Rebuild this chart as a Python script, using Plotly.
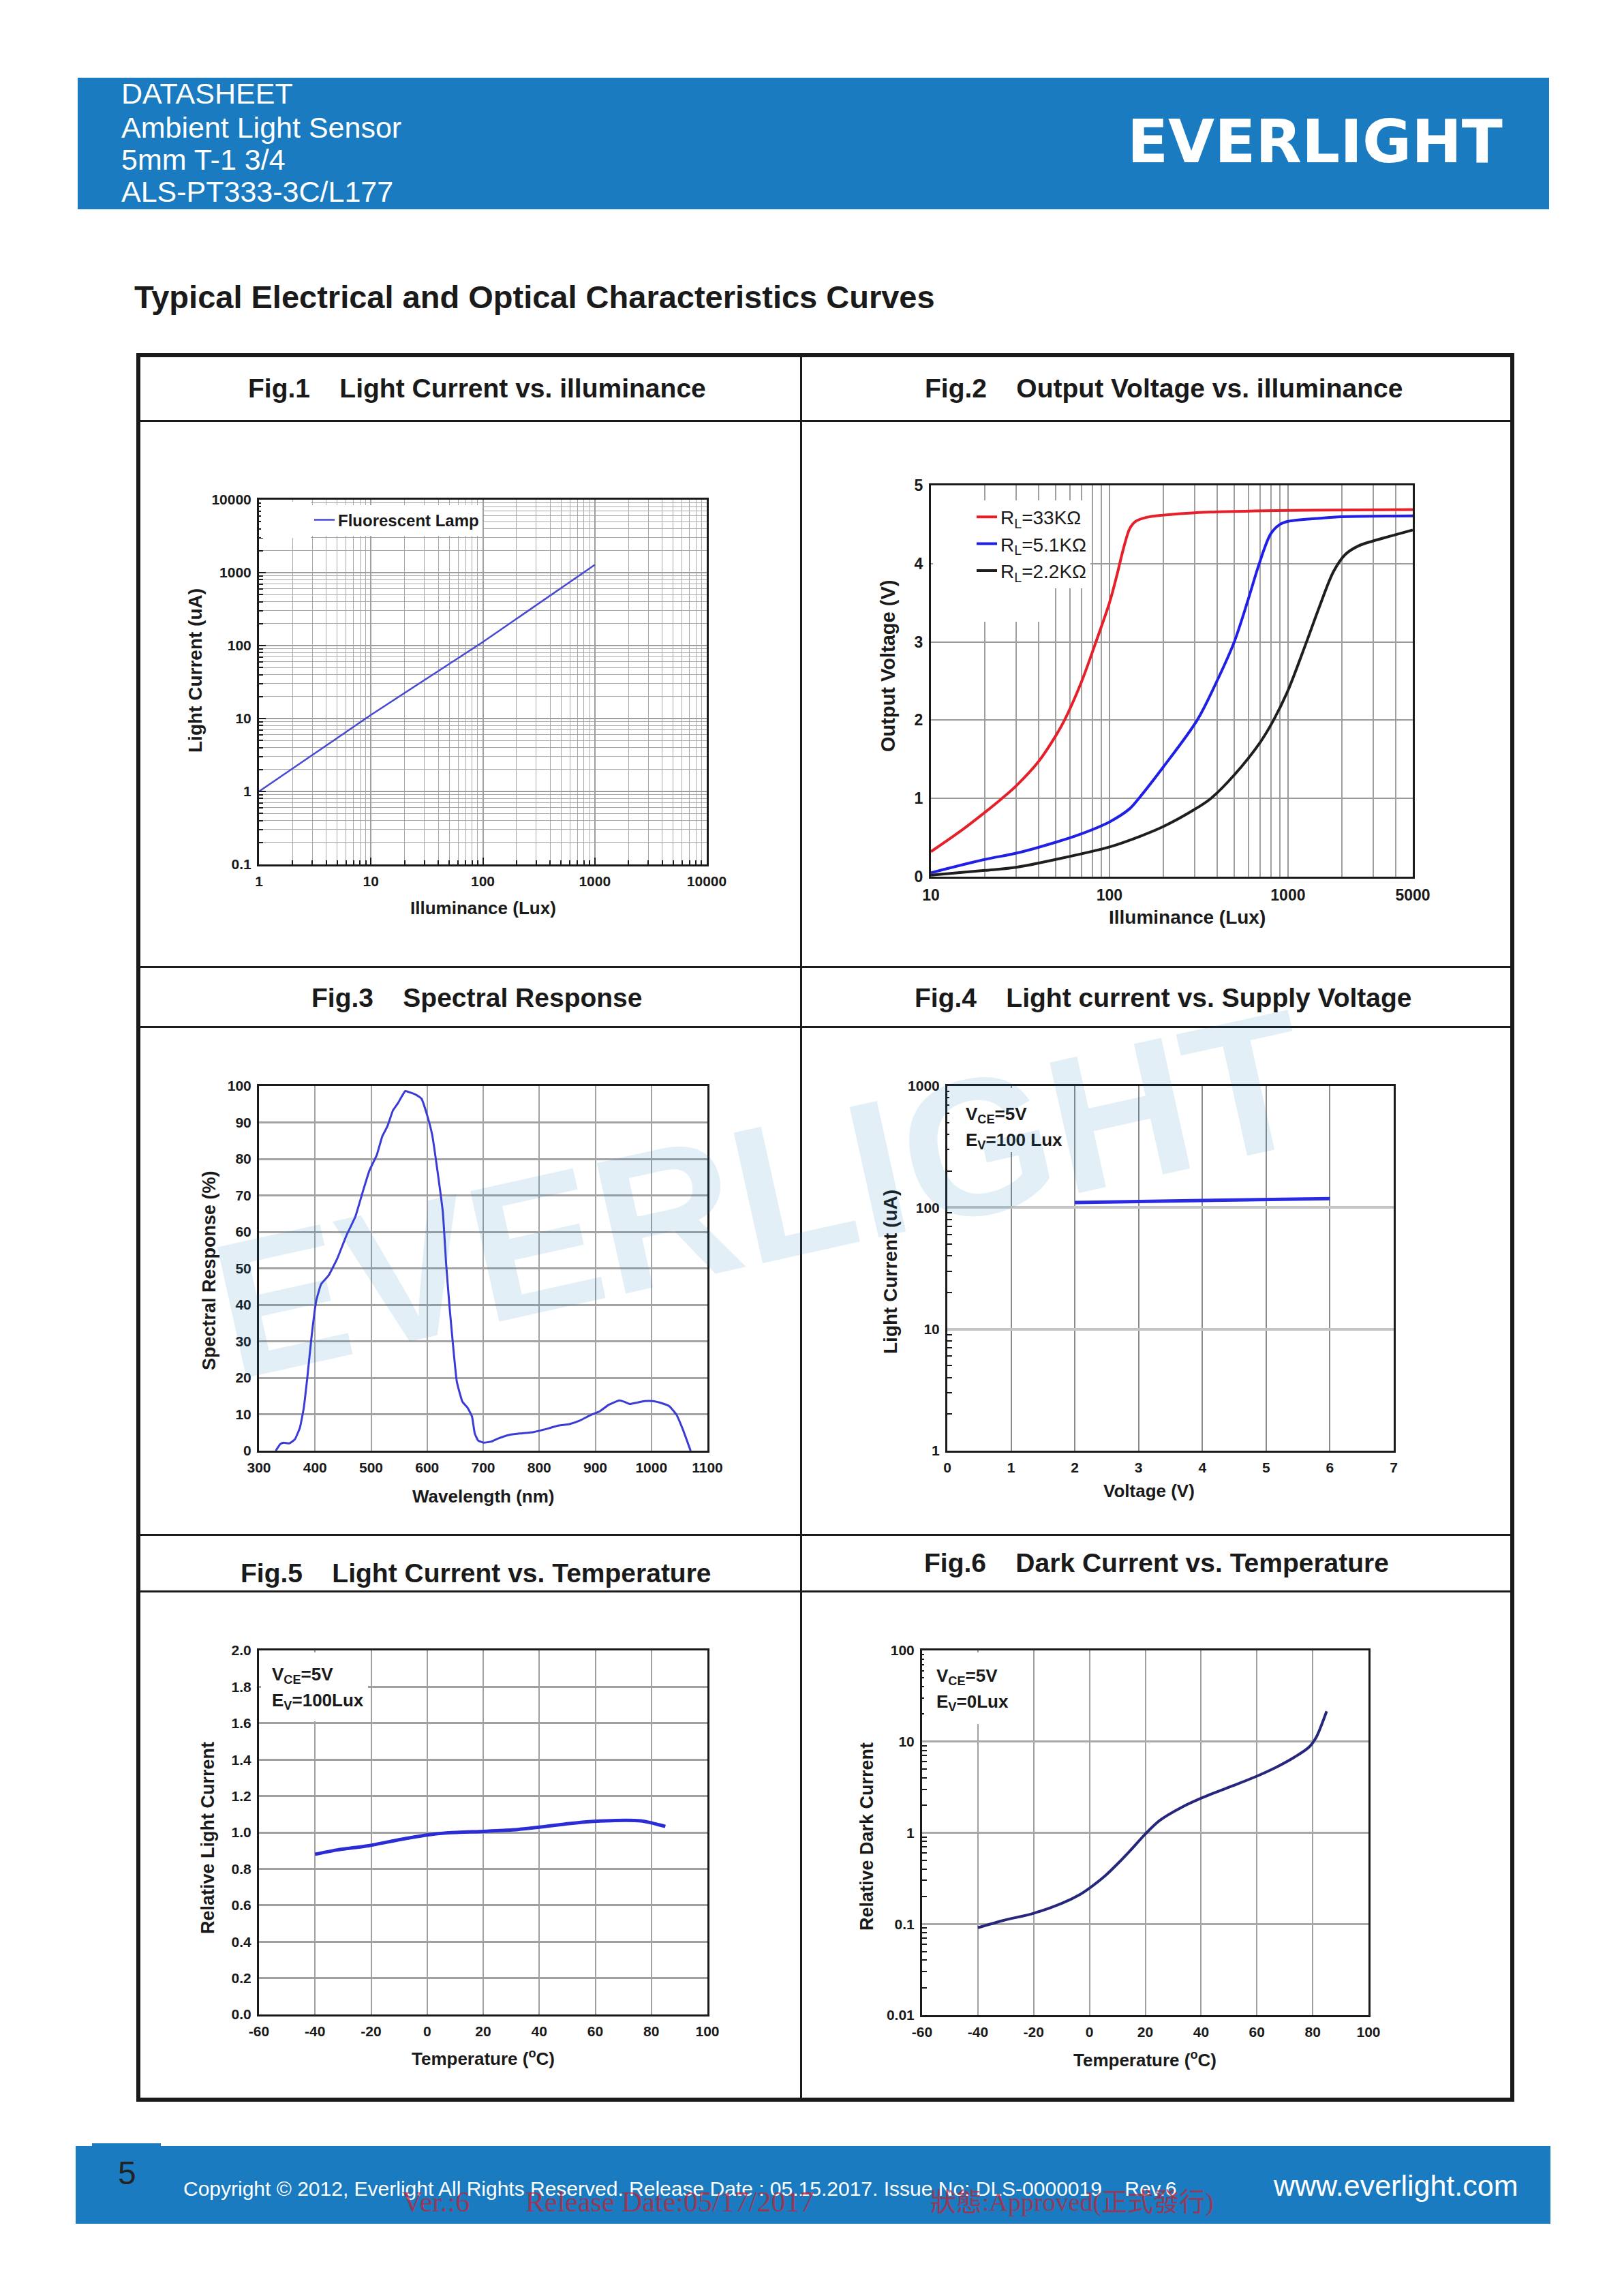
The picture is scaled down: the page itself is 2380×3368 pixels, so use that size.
import plotly.graph_objects as go

W, H = 2380, 3368
OFF = 8  # page body margin of the html wrapper
FONT = "Liberation Sans, Arial, sans-serif"
INK = "#1a1a1a"
BAR_BLUE = "#1b7bc1"

# ---------------- data ----------------
# Fig.1 Light current vs illuminance
FIG1_LUX = [1, 10, 100, 1000]
FIG1_CURRENT = [1.0, 11.2, 112, 1280]
FIG1_XTICKS = [1, 10, 100, 1000, 10000]
FIG1_XTEXT = ["1", "10", "100", "1000", "10000"]
FIG1_YTICKS = [0.1, 1, 10, 100, 1000, 10000]
FIG1_YTEXT = ["0.1", "1", "10", "100", "1000", "10000"]

# Fig.2 Output voltage vs illuminance
FIG2_RED_LUX = [10, 15, 20, 25, 30, 40, 50, 56, 70, 84, 100, 110, 120, 130, 140, 160, 200, 300, 1000, 5000]
FIG2_RED_V = [0.32, 0.6, 0.82, 1.0, 1.16, 1.47, 1.8, 2.0, 2.5, 3.0, 3.5, 3.85, 4.2, 4.45, 4.54, 4.59, 4.62, 4.65, 4.68, 4.69]
FIG2_BLUE_LUX = [10, 20, 30, 50, 70, 100, 130, 146, 200, 310, 400, 500, 600, 690, 800, 900, 1000, 1500, 2000, 5000]
FIG2_BLUE_V = [0.05, 0.22, 0.3, 0.44, 0.55, 0.7, 0.87, 1.0, 1.4, 2.0, 2.5, 3.0, 3.55, 4.0, 4.38, 4.5, 4.54, 4.58, 4.6, 4.61]
FIG2_BLACK_LUX = [10, 20, 30, 50, 100, 150, 200, 300, 370, 500, 700, 830, 1000, 1270, 1500, 1800, 2100, 2500, 3000, 4000, 5000]
FIG2_BLACK_V = [0.02, 0.08, 0.12, 0.22, 0.38, 0.52, 0.64, 0.86, 1.0, 1.3, 1.72, 2.0, 2.38, 3.0, 3.45, 3.9, 4.12, 4.23, 4.29, 4.37, 4.43]
FIG2_XTICKS = [10, 100, 1000, 5000]
FIG2_XTEXT = ["10", "100", "1000", "5000"]
FIG2_NAMES = ["R<sub>L</sub>=33KΩ", "R<sub>L</sub>=5.1KΩ", "R<sub>L</sub>=2.2KΩ"]

# Fig.3 Spectral response
FIG3_NM = [330, 338, 344, 354, 364, 373, 380, 386, 394, 402, 411, 424, 440, 456, 472, 485,
           497, 510, 520, 529, 539, 548, 561, 570, 580, 590, 599, 609, 618, 628, 634, 640,
           647, 653, 663, 672, 680, 685, 691, 701, 714, 726, 746, 765, 790, 816, 835, 854,
           873, 892, 908, 924, 943, 952, 962, 975, 988, 1003, 1019, 1032, 1045, 1057, 1070]
FIG3_RESP = [0, 1.8, 2.2, 2.0, 3.1, 6.3, 11.8, 19.7, 31.5, 41, 45.7, 48, 52.8, 59, 64.2, 70.9,
             76.8, 81, 86.2, 88.9, 93.3, 95.3, 98.6, 98.2, 97.6, 96.5, 92.5, 86.6, 77.2, 65.4, 51, 39.4,
             27.6, 18.9, 13.4, 11.8, 9.4, 4.7, 2.8, 2.2, 2.5, 3.3, 4.3, 4.7, 5.1, 6.1, 6.9, 7.3,
             8.3, 9.8, 10.8, 12.6, 13.8, 13.4, 12.8, 13.2, 13.6, 13.6, 13.0, 12.2, 9.8, 5.5, 0]

# Fig.4 Light current vs supply voltage
FIG4_VOLT = [2, 3, 4, 5, 6]
FIG4_CURRENT = [110, 112.5, 114.5, 116.5, 118.5]
FIG4_YTICKS = [1, 10, 100, 1000]
FIG4_YTEXT = ["1", "10", "100", "1000"]

# Fig.5 Relative light current vs temperature
FIG5_TEMP = [-40, -32, -20.5, -10.4, 0, 7.5, 20.2, 30.4, 40.6, 50.7, 59.6, 67.3, 76.2, 80, 82.6, 85]
FIG5_REL = [0.88, 0.904, 0.928, 0.959, 0.986, 0.998, 1.006, 1.014, 1.03, 1.049, 1.061, 1.066, 1.064, 1.053, 1.042, 1.033]

# Fig.6 Relative dark current vs temperature
FIG6_TEMP = [-40, -31, -20, -10, -3.6, 0.3, 5.5, 10.8, 14.7, 19.9, 25.1, 33, 40.8, 50, 59.1, 67, 73.5, 78.7, 81.3, 83.3, 85]
FIG6_REL = [0.091, 0.109, 0.131, 0.168, 0.209, 0.251, 0.335, 0.481, 0.643, 0.96, 1.36, 1.9, 2.45, 3.16, 4.07, 5.25, 6.76, 8.71, 11.2, 15.6, 21.5]
FIG6_YTICKS = [0.01, 0.1, 1, 10, 100]
FIG6_YTEXT = ["0.01", "0.1", "1", "10", "100"]

TEMP_TICKS = [-60, -40, -20, 0, 20, 40, 60, 80, 100]
TEMP_TEXT = ["-60", "-40", "-20", "0", "20", "40", "60", "80", "100"]


# ---------------- helpers ----------------
def px(x):
    return (x - OFF) / W


def py(y):
    return 1 - (y - OFF) / H


def xdom(a, b):
    return [px(a), px(b)]


def ydom(top, bottom):
    return [py(bottom), py(top)]


def decade_minors(lo, hi):
    return [k * 10 ** e for e in range(lo, hi) for k in range(2, 10)]


def axis(domain, anchor, size=21, **kw):
    d = dict(domain=domain, anchor=anchor, showline=True, mirror=True,
             linecolor=INK, linewidth=3, zeroline=False, showgrid=True,
             gridcolor="#9e9e9e", gridwidth=1.5, ticks="", fixedrange=True,
             ticklabelstandoff=4, automargin=False,
             tickfont=dict(family=FONT, size=size, color=INK, weight="bold"))
    d.update(kw)
    return d


fig = go.Figure()

# ---------------- traces ----------------
fig.add_trace(go.Scatter(x=FIG1_LUX, y=FIG1_CURRENT, mode="lines", name="Fluorescent Lamp",
                         line=dict(color="#4848d4", width=2.5), xaxis="x", yaxis="y", legend="legend"))

for xs, ys, nm, col in [(FIG2_RED_LUX, FIG2_RED_V, FIG2_NAMES[0], "#e5202a"),
                        (FIG2_BLUE_LUX, FIG2_BLUE_V, FIG2_NAMES[1], "#1f1fe6"),
                        (FIG2_BLACK_LUX, FIG2_BLACK_V, FIG2_NAMES[2], "#1e1e1e")]:
    fig.add_trace(go.Scatter(x=xs, y=ys, mode="lines", name=nm,
                             line=dict(color=col, width=4, shape="spline", smoothing=0.9),
                             xaxis="x2", yaxis="y2", legend="legend2"))

fig.add_trace(go.Scatter(x=FIG3_NM, y=FIG3_RESP, mode="lines", showlegend=False,
                         line=dict(color="#3b3bd6", width=3, shape="spline", smoothing=0.4),
                         xaxis="x3", yaxis="y3"))
fig.add_trace(go.Scatter(x=FIG4_VOLT, y=FIG4_CURRENT, mode="lines", showlegend=False,
                         line=dict(color="#2a2ae2", width=5), xaxis="x4", yaxis="y4"))
fig.add_trace(go.Scatter(x=FIG5_TEMP, y=FIG5_REL, mode="lines", showlegend=False,
                         line=dict(color="#2c2cd6", width=5, shape="spline", smoothing=0.6),
                         xaxis="x5", yaxis="y5"))
fig.add_trace(go.Scatter(x=FIG6_TEMP, y=FIG6_REL, mode="lines", showlegend=False,
                         line=dict(color="#26267c", width=4, shape="spline", smoothing=0.9),
                         xaxis="x6", yaxis="y6"))

# ---------------- axes ----------------
minor_grid = dict(showgrid=True, gridcolor="#a8a8a8", gridwidth=1.3)
layout_axes = dict(
    xaxis=axis(xdom(380, 1037), "y", type="log", range=[0, 4],
               tickmode="array", tickvals=FIG1_XTICKS, ticktext=FIG1_XTEXT,
               ticks="inside", ticklen=10, tickcolor=INK, tickwidth=2,
               minor=dict(tickvals=decade_minors(0, 4), ticks="inside", ticklen=6,
                          tickcolor=INK, tickwidth=1.5, **minor_grid)),
    yaxis=axis(ydom(733, 1268), "x", type="log", range=[-1, 4],
               tickmode="array", tickvals=FIG1_YTICKS, ticktext=FIG1_YTEXT,
               ticks="inside", ticklen=10, tickcolor=INK, tickwidth=2,
               minor=dict(tickvals=decade_minors(-1, 4), ticks="inside", ticklen=6,
                          tickcolor=INK, tickwidth=1.5, **minor_grid)),
    xaxis2=axis(xdom(1366, 2073), "y2", size=23, type="log", range=[1, 3.69897],
                tickmode="array", tickvals=FIG2_XTICKS, ticktext=FIG2_XTEXT,
                gridcolor="#9a9a9a", gridwidth=2,
                minor=dict(tickvals=decade_minors(1, 3) + [2000, 3000, 4000],
                           showgrid=True, gridcolor="#a0a0a0", gridwidth=2)),
    yaxis2=axis(ydom(712, 1286), "x2", size=23, range=[0, 5], dtick=1,
                gridcolor="#9a9a9a", gridwidth=2),
    xaxis3=axis(xdom(380, 1038), "y3", range=[300, 1100], dtick=100,
                gridcolor="#a3a3a3", gridwidth=2),
    yaxis3=axis(ydom(1593, 2128), "x3", range=[0, 100], dtick=10,
                gridcolor="#a3a3a3", gridwidth=2.5),
    xaxis4=axis(xdom(1390, 2045), "y4", range=[0, 7], dtick=1,
                gridcolor="#8a8a8a", gridwidth=1.5),
    yaxis4=axis(ydom(1593, 2128), "x4", type="log", range=[0, 3],
                tickmode="array", tickvals=FIG4_YTICKS, ticktext=FIG4_YTEXT,
                gridcolor="#c4c4c4", gridwidth=3.5,
                minor=dict(tickvals=decade_minors(0, 3), ticks="inside", ticklen=7,
                           tickcolor=INK, tickwidth=1.5, showgrid=False)),
    xaxis5=axis(xdom(380, 1038), "y5", range=[-60, 100],
                tickmode="array", tickvals=TEMP_TICKS, ticktext=TEMP_TEXT,
                gridcolor="#a0a0a0", gridwidth=2),
    yaxis5=axis(ydom(2421, 2955), "x5", range=[0, 2.0], dtick=0.2, tickformat=".1f",
                gridcolor="#a0a0a0", gridwidth=2.5),
    xaxis6=axis(xdom(1353, 2008), "y6", range=[-60, 100],
                tickmode="array", tickvals=TEMP_TICKS, ticktext=TEMP_TEXT,
                gridcolor="#a0a0a0", gridwidth=2),
    yaxis6=axis(ydom(2421, 2956), "x6", type="log", range=[-2, 2],
                tickmode="array", tickvals=FIG6_YTICKS, ticktext=FIG6_YTEXT,
                gridcolor="#a8a8a8", gridwidth=2.5,
                minor=dict(tickvals=decade_minors(-2, 2), ticks="inside", ticklen=7,
                           tickcolor=INK, tickwidth=1.5, showgrid=False)),
)

# ---------------- shapes ----------------
shapes = []


def rect(x0, y0, x1, y1, fill=None, lw=0, lc=INK):
    shapes.append(dict(type="rect", xref="paper", yref="paper",
                       x0=px(x0), x1=px(x1), y0=py(y1), y1=py(y0),
                       fillcolor=fill if fill else "rgba(0,0,0,0)",
                       line=dict(width=lw, color=lc), layer="above"))


def hline(y, x0, x1, lw=3):
    shapes.append(dict(type="line", xref="paper", yref="paper",
                       x0=px(x0), x1=px(x1), y0=py(y), y1=py(y),
                       line=dict(width=lw, color=INK)))


def vline(x, y0, y1, lw=3):
    shapes.append(dict(type="line", xref="paper", yref="paper",
                       x0=px(x), x1=px(x), y0=py(y0), y1=py(y1),
                       line=dict(width=lw, color=INK)))


# header / footer bars
rect(114, 114, 2273, 307, fill=BAR_BLUE)
rect(111, 3148, 2275, 3262, fill=BAR_BLUE)
rect(135, 3144, 236, 3149, fill=BAR_BLUE)

# table
rect(203, 521, 2219, 3080, lw=6)
vline(1175.5, 521, 3080)
for yy in [617.5, 1418.5, 1506.5, 2251.5, 2334.5]:
    hline(yy, 203, 2219)

# ---------------- annotations ----------------
ann = []


def cover(x0, y0, x1, y1):
    """white patch hiding the gridlines behind in-plot labels"""
    ann.append(dict(text="\u00a0", x=px(x0), y=py(y0), xref="paper", yref="paper",
                    xanchor="left", yanchor="top", showarrow=False,
                    width=x1 - x0, height=y1 - y0, bgcolor="white",
                    borderpad=0, borderwidth=0, font=dict(size=10)))


def text(t, x, y, size, color=INK, bold=False, xanchor="center", yanchor="middle",
         angle=0, family=FONT):
    ann.append(dict(text=t, x=px(x), y=py(y), xref="paper", yref="paper",
                    xanchor=xanchor, yanchor=yanchor, showarrow=False, textangle=angle,
                    font=dict(family=family, size=size, color=color,
                              weight="bold" if bold else "normal")))


LEG1_X = 456
LEG2_X = 1428
cover(383, 736, LEG1_X, 789)
cover(1369, 715, LEG2_X, 912)
cover(LEG2_X, 857, 1532, 912)
cover(1393, 1596, 1560, 1690)
cover(383, 2424, 540, 2525)
cover(1356, 2424, 1495, 2529)

# header text
for t, yy in [("DATASHEET", 137), ("Ambient Light Sensor", 187),
              ("5mm T-1 3/4", 234), ("ALS-PT333-3C/L177", 281)]:
    text(t, 176, yy, 43, color="white", xanchor="left")
text("EVERLIGHT", 1929, 207, 88, color="white", bold=True, family="DejaVu Sans, Liberation Sans")

text("Typical Electrical and Optical Characteristics Curves", 195, 436, 47, bold=True, xanchor="left")

SP = "\u00a0" * 4
text("Fig.1" + SP + "Light Current vs. illuminance", 700, 569, 39, bold=True)
text("Fig.2" + SP + "Output Voltage vs. illuminance", 1707, 569, 39, bold=True)
text("Fig.3" + SP + "Spectral Response", 699, 1463, 39, bold=True)
text("Fig.4" + SP + "Light current vs. Supply Voltage", 1707, 1463, 39, bold=True)
text("Fig.5" + SP + "Light Current vs. Temperature", 698, 2307, 39, bold=True)
text("Fig.6" + SP + "Dark Current vs. Temperature", 1697, 2292, 39, bold=True)

# axis titles
text("Illuminance (Lux)", 709, 1332, 26, bold=True)
text("Light Current (uA)", 286, 984, 28, bold=True, angle=-90)
text("Illuminance (Lux)", 1742, 1345, 28, bold=True)
text("Output Voltage (V)", 1303, 977, 29, bold=True, angle=-90)
text("Wavelength (nm)", 709, 2195, 26, bold=True)
text("Spectral Response (%)", 307, 1864, 27, bold=True, angle=-90)
text("Voltage (V)", 1686, 2187, 26, bold=True)
text("Light Current (uA)", 1306, 1865, 28, bold=True, angle=-90)
text("Temperature (<sup>o</sup>C)", 709, 3018, 26, bold=True)
text("Relative Light Current", 305, 2696, 27, bold=True, angle=-90)
text("Temperature (<sup>o</sup>C)", 1680, 3020, 26, bold=True)
text("Relative Dark Current", 1272, 2694, 27, bold=True, angle=-90)

# condition labels
text("V<sub>CE</sub>=5V", 1415, 1636, 26, bold=True, xanchor="left")
text("E<sub>V</sub>=100 Lux", 1415, 1674, 26, bold=True, xanchor="left")
text("V<sub>CE</sub>=5V", 397, 2457, 26, bold=True, xanchor="left")
text("E<sub>V</sub>=100Lux", 397, 2495, 26, bold=True, xanchor="left")
text("V<sub>CE</sub>=5V", 1372, 2459, 26, bold=True, xanchor="left")
text("E<sub>V</sub>=0Lux", 1372, 2497, 26, bold=True, xanchor="left")

# watermark
text("EVERLIGHT", 1117, 1752, 285, color="rgba(27,122,193,0.12)", bold=True, angle=-12.5)

# footer
text("5", 186, 3187, 48, color="#222222")
text("Copyright © 2012, Everlight All Rights Reserved. Release Date : 05.15.2017. Issue No: DLS-0000019"
     + "\u00a0" * 4 + "Rev.6", 267, 3210, 30, color="white", xanchor="left")
text("www.everlight.com", 2229, 3206, 43, color="white", xanchor="right")
STAMP = "rgba(190,35,55,0.75)"
SERIF = "Liberation Serif, Noto Sans CJK TC, serif"
text("Ver.:6", 639, 3230, 42, color=STAMP, family=SERIF)
text("Release Date:05/17/2017", 982, 3230, 42, color=STAMP, family=SERIF)
text("狀態:Approved(正式發行)", 1573, 3230, 38, color=STAMP, family=SERIF)

fig.update_layout(
    width=W, height=H, margin=dict(l=0, r=0, t=0, b=0, autoexpand=False),
    paper_bgcolor="white", plot_bgcolor="rgba(0,0,0,0)",
    font=dict(family=FONT, color=INK),
    shapes=shapes, annotations=ann,
    legend=dict(x=px(LEG1_X), y=py(763), xanchor="left", yanchor="middle",
                bgcolor="white", borderwidth=0,
                font=dict(family=FONT, size=24, color=INK, weight="bold")),
    legend2=dict(x=px(LEG2_X), y=py(798), xanchor="left", yanchor="middle",
                 bgcolor="white", borderwidth=0, tracegroupgap=0,
                 font=dict(family=FONT, size=28, color=INK)),
    **layout_axes,
)

fig.write_html("out.html")
